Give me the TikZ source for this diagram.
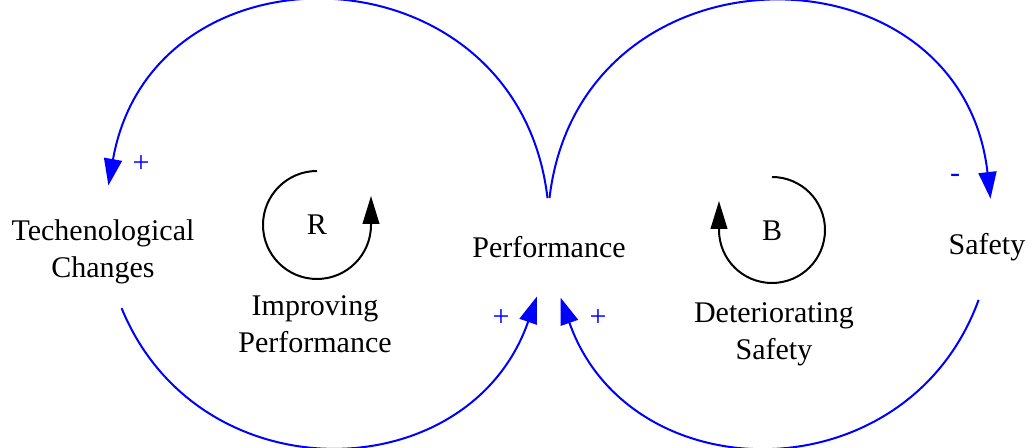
\documentclass[tikz,border=0pt]{standalone}
\usepackage{fontspec}
\setmainfont{Liberation Serif}
\usetikzlibrary{arrows.meta}

\begin{document}
\begin{tikzpicture}[x=0.75pt, y=0.75pt, font=\fontsize{22.5}{28}\selectfont,
  var/.style={align=center, inner sep=2pt},
  link/.style={draw=blue, line width=1.5pt, -{Triangle[length=20pt, width=13.5pt]}},
  loopar/.style={draw=black, line width=1.5pt, -{Triangle[length=21pt, width=12.5pt]}},
  sgn/.style={text=blue, inner sep=0pt}]
\useasboundingbox (0,0) rectangle (1029,448);
\node[var] (tech) at (103,196) {Techenological\\Changes};
\node[var] (perf) at (549,201) {Performance};
\node[var] (safe) at (987,201) {Safety};
\node[var] (rname) at (315,124) {Improving\\Performance};
\node[var] (bname) at (774,114) {Deteriorating\\Safety};
\node (r) at (317,223) {R};
\node (b) at (772,217) {B};
% link ends on the two big circles
\coordinate (a1) at (547.5,249.9);
\coordinate (a2) at (108.4,262.5);
\coordinate (b1) at (121.6,139.8);
\coordinate (b2) at (536.8,151.4);
\coordinate (c1) at (549.5,249.9);
\coordinate (c2) at (990.5,249.3);
\coordinate (d1) at (978.6,148.1);
\coordinate (d2) at (560.6,150.3);
\draw[link] (a1) to[out=96.7, in=80, looseness=1.487] (a2);
\draw[link] (b1) to[out=292.3, in=250.9, looseness=1.258] (b2);
\draw[link] (c1) to[out=83.3, in=96.5, looseness=1.527] (c2);
\draw[link] (d1) to[out=250, in=289.4, looseness=1.274] (d2);
\node[sgn] (s1) at (141,284) {+};
\node[sgn] (s2) at (501,130) {+};
\node[sgn] (s3) at (598,130) {+};
\node[sgn] (s4) at (955,270) {-};
% loop markers
\coordinate (rtop) at (317,277);
\coordinate (btop) at (772,271);
\draw[loopar] (rtop) arc[start angle=90, end angle=360, radius=54] -- ++(0,29);
\draw[loopar] (btop) arc[start angle=90, end angle=-180, radius=53] -- ++(0,29);
\end{tikzpicture}
\end{document}
